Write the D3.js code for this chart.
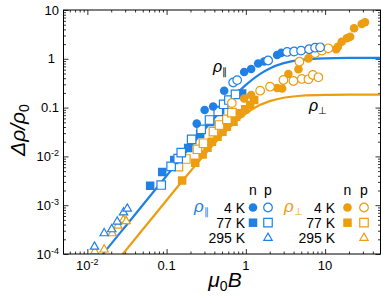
<!DOCTYPE html>
<html>
<head>
<meta charset="utf-8">
<script src="https://cdn.jsdelivr.net/npm/d3@7"></script>
<style>
  body { margin: 0; background: #fff; }
  text { font-family: "Liberation Sans", Arial, Helvetica, sans-serif; }
</style>
</head>
<body>
<div id="app"></div>
<script>
// ---- data: [mu0B (T), delta rho / rho0] ----
// parallel (blue)
const parN4 = [[0.240,0.047],[0.302,0.089],[0.387,0.105],[0.533,0.222],[0.952,0.536],[1.166,0.618],[1.43,0.80],[1.70,0.88],[2.48,1.20],[2.79,1.32]];
const parP4 = [[0.692,0.327],[0.777,0.366],[1.91,0.923],[3.32,1.38],[4.06,1.41],[4.98,1.47],[6.28,1.57],[7.48,1.69],[8.65,1.72]];
const parN77 = [[0.062,0.0025],[0.088,0.0048],[0.125,0.0084],[0.187,0.0149],[0.265,0.0288],[0.355,0.0507],[0.474,0.089],[0.898,0.195]];
const parP77 = [[0.0855,0.00259],[0.114,0.00627],[0.140,0.00897],[0.153,0.0120],[0.207,0.0224],[0.273,0.0359],[0.348,0.0557],[0.448,0.084],[0.525,0.117],[0.611,0.143],[0.740,0.187]];
const parP295 = [[0.0123,1.41e-4],[0.0163,2.65e-4],[0.0203,3.2e-4],[0.0238,4.6e-4],[0.0286,7.1e-4],[0.0319,8.5e-4]];
// perpendicular (orange)
const perN4 = [[0.952,0.154],[1.166,0.181],[2.48,0.252],[2.87,0.246],[3.44,0.488],[4.61,0.609],[6.16,1.02],[13.8,1.57],[14.5,1.77],[16.2,2.24],[18.8,2.63],[20.7,2.84],[23.2,4.22],[29.0,5.17],[31.9,5.60]];
const perP4 = [[0.666,0.124],[1.515,0.222],[2.02,0.268],[2.98,0.368],[3.98,0.351],[5.08,0.386],[6.16,0.380],[7.0,0.466],[8.23,0.418],[4.74,0.872],[7.48,1.30],[9.09,1.47],[11.0,1.64]];
const perN77 = [[0.157,0.00321],[0.230,0.00743],[0.285,0.0109],[0.328,0.0151],[0.373,0.0200],[0.439,0.0253],[0.507,0.0321],[0.576,0.0406],[0.698,0.0514],[0.755,0.0651],[0.848,0.0764],[0.980,0.0923],[1.133,0.113],[1.273,0.143]];
const perP77 = [[0.141,0.00615],[0.175,0.00885],[0.245,0.0140],[0.292,0.0186],[0.390,0.0321],[0.465,0.0440],[0.576,0.0576],[0.666,0.0786]];
const perP295 = [[0.0124,1.12e-4],[0.0163,1.23e-4],[0.0206,2.65e-4],[0.0243,3.8e-4],[0.0285,5.0e-4],[0.0309,4.7e-4]];
// fit curves, sampled from the figure
const fitB = [0.015,0.0167,0.027,0.03,0.05,0.1,0.2,0.4,0.7,1,1.5,2,3,5,10,20,50];
const fitPar = [9.1e-5,1.13e-4,2.95e-4,3.63e-4,1.01e-3,4.02e-3,0.0159,0.0608,0.166,0.292,0.487,0.636,0.815,0.951,1.023,1.043,1.049];
const fitPer = [2.87e-5,3.56e-5,9.29e-5,1.147e-4,3.18e-4,1.266e-3,4.96e-3,0.0184,0.0467,0.0755,0.1125,0.1358,0.1594,0.1749,0.1824,0.1844,0.1849];

const xMajor = [0.01, 0.1, 1, 10];
const yMajor = [1e-4, 1e-3, 1e-2, 0.1, 1, 10];
const xLabels = [["10","-2"],["0.1",""],["1",""],["10",""]];
const yLabels = [["10","-4"],["10","-3"],["10","-2"],["0.1",""],["1",""],["10",""]];

const blue = "#1f80e6", orange = "#ec9d10";
const W = 381, H = 301;
const mLeft = 63.5, mRight = 380.5, mTop = 10, mBottom = 254;

const x = d3.scaleLog([0.005, 50], [mLeft, mRight]);
const y = d3.scaleLog([1e-4, 10], [mBottom, mTop]);

const svg = d3.select("#app").append("svg")
  .attr("width", W).attr("height", H);

svg.append("clipPath").attr("id", "clip")
  .append("rect").attr("x", mLeft).attr("y", mTop)
  .attr("width", mRight - mLeft).attr("height", mBottom - mTop);

// minor tick values
let xMinor = [], yMinor = [];
for (let e = -3; e <= 1; e++) for (let m = 2; m <= 9; m++) {
  let v = m * Math.pow(10, e);
  if (v > 0.005 && v < 50) xMinor.push(v);
}
for (let e = -4; e <= 0; e++) for (let m = 2; m <= 9; m++) yMinor.push(m * Math.pow(10, e));

function ticks(axis, tx, ty) {
  svg.append("g").attr("transform", `translate(${tx},${ty})`)
    .call(axis)
    .call(g => g.select(".domain").remove())
    .call(g => g.selectAll("line").attr("stroke", "#000").attr("stroke-width", 0.8));
}
ticks(d3.axisBottom(x).tickValues(xMajor).tickSize(-5).tickFormat(""), 0, mBottom);
ticks(d3.axisBottom(x).tickValues(xMinor).tickSize(-2.5).tickFormat(""), 0, mBottom);
ticks(d3.axisTop(x).tickValues(xMajor).tickSize(-5).tickFormat(""), 0, mTop);
ticks(d3.axisTop(x).tickValues(xMinor).tickSize(-2.5).tickFormat(""), 0, mTop);
ticks(d3.axisLeft(y).tickValues(yMajor).tickSize(-5).tickFormat(""), mLeft, 0);
ticks(d3.axisLeft(y).tickValues(yMinor).tickSize(-2.5).tickFormat(""), mLeft, 0);
ticks(d3.axisRight(y).tickValues(yMajor).tickSize(-5).tickFormat(""), mRight, 0);
ticks(d3.axisRight(y).tickValues(yMinor).tickSize(-2.5).tickFormat(""), mRight, 0);

// tick labels
function label(g, v, px, py, anchor) {
  let t = g.append("text").attr("x", px).attr("y", py)
    .attr("text-anchor", anchor).attr("font-size", 13).text(v[0]);
  if (v[1]) t.append("tspan").attr("dy", -5).attr("font-size", 9).text(v[1]);
}
let lab = svg.append("g");
xMajor.forEach((v, i) => label(lab, xLabels[i], x(v), 270, "middle"));
// the "1" label sits a little left of the others in the original
yMajor.forEach((v, i) => label(lab, yLabels[i], v === 1 ? 55 : 59, y(v) + 4.5, "end"));

// axis titles
let xt = svg.append("text").attr("x", 225).attr("y", 287)
  .attr("text-anchor", "middle").attr("font-size", 21).attr("font-style", "italic");
xt.append("tspan").text("μ");
xt.append("tspan").attr("font-size", 14).attr("dy", 4).attr("font-style", "normal").text("0");
xt.append("tspan").attr("dy", -4).text("B");

let yt = svg.append("text").attr("transform", "translate(25,130) rotate(-90)")
  .attr("text-anchor", "middle").attr("font-size", 21).attr("font-style", "italic");
yt.append("tspan").text("Δρ/ρ");
yt.append("tspan").attr("font-size", 14).attr("dy", 4).attr("font-style", "normal").text("0");

// fit lines
const line = d3.line().x(d => x(d[0])).y(d => y(d[1])).curve(d3.curveMonotoneX);
const plot = svg.append("g").attr("clip-path", "url(#clip)");
plot.append("path").attr("d", line(fitB.map((b, i) => [b, fitPer[i]])))
  .attr("fill", "none").attr("stroke", orange).attr("stroke-width", 2.2);
plot.append("path").attr("d", line(fitB.map((b, i) => [b, fitPar[i]])))
  .attr("fill", "none").attr("stroke", blue).attr("stroke-width", 2.2);

// markers
const sym = {
  circle: d3.symbol(d3.symbolCircle, 58),
  square: d3.symbol(d3.symbolSquare, 72),
  triangle: d3.symbol(d3.symbolTriangle, 30)
};
function markers(g, data, shape, color, filled) {
  g.selectAll(null).data(data).join("path")
    .attr("transform", d => `translate(${x(d[0])},${y(d[1])})`)
    .attr("d", sym[shape]())
    .attr("fill", filled ? color : "#fff")
    .attr("stroke", color).attr("stroke-width", filled ? 0 : 1.2);
}
markers(plot, perP295, "triangle", orange, false);
markers(plot, parP295, "triangle", blue, false);
markers(plot, perN77, "square", orange, true);
markers(plot, perP77, "square", orange, false);
markers(plot, parN77, "square", blue, true);
markers(plot, parP77, "square", blue, false);
markers(plot, perN4, "circle", orange, true);
markers(plot, perP4, "circle", orange, false);
markers(plot, parN4, "circle", blue, true);
markers(plot, parP4, "circle", blue, false);

// curve labels
function rho(g, px, py, sub, color, size) {
  let t = g.append("text").attr("x", px).attr("y", py).attr("fill", color)
    .attr("font-size", size).attr("font-style", "italic");
  t.append("tspan").text("ρ");
  t.append("tspan").attr("font-size", size * 0.6).attr("dy", 3).attr("font-style", "normal").text(sub);
}
rho(svg, 213, 72, "∥", "#000", 16);
rho(svg, 309, 111, "⊥", "#000", 16);

// legends
const rowsY = [207.5, 222.7, 237.9];
const rowNames = ["4 K", "77 K", "295 K"];
function legend(lx, color, sub, nx, px) {
  let g = svg.append("g");
  g.append("text").attr("x", nx).attr("y", 194.5).attr("text-anchor", "middle").attr("font-size", 14).text("n");
  g.append("text").attr("x", px).attr("y", 194.5).attr("text-anchor", "middle").attr("font-size", 14).text("p");
  rowNames.forEach((r, i) => g.append("text").attr("x", lx).attr("y", rowsY[i] + 5)
    .attr("text-anchor", "end").attr("font-size", 14).text(r));
  rho(g, lx - 51, 212, sub, color, 17);
  markers(g, [[nx, rowsY[0]]].map(d => [x.invert(d[0]), y.invert(d[1])]), "circle", color, true);
  markers(g, [[px, rowsY[0]]].map(d => [x.invert(d[0]), y.invert(d[1])]), "circle", color, false);
  markers(g, [[nx, rowsY[1]]].map(d => [x.invert(d[0]), y.invert(d[1])]), "square", color, true);
  markers(g, [[px, rowsY[1]]].map(d => [x.invert(d[0]), y.invert(d[1])]), "square", color, false);
  markers(g, [[px, rowsY[2]]].map(d => [x.invert(d[0]), y.invert(d[1])]), "triangle", color, false);
}
legend(245, blue, "∥", 253, 268);
legend(335, orange, "⊥", 347.5, 364);

// frame
svg.append("rect").attr("x", mLeft).attr("y", mTop)
  .attr("width", mRight - mLeft).attr("height", mBottom - mTop)
  .attr("fill", "none").attr("stroke", "#000").attr("stroke-width", 1);
</script>
</body>
</html>
